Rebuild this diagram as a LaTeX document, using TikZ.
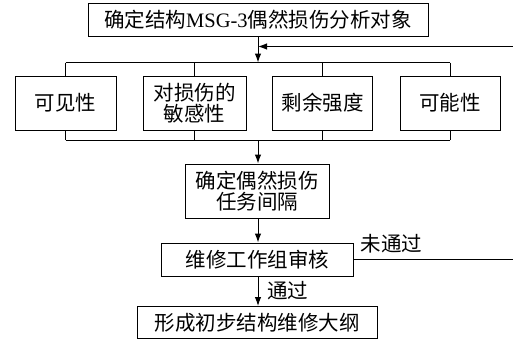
\documentclass[tikz,border=0pt]{standalone}
\usepackage{fontspec}
\setmainfont{Liberation Serif}
\newfontfamily\cjk{Noto Sans CJK SC}
\usetikzlibrary{arrows.meta}
\begin{document}
\begin{tikzpicture}[x=1pt,y=-1pt,
  box/.style={draw,line width=1pt,inner sep=0pt,align=center,font=\cjk\fontsize{20.5}{21.5}\selectfont},
  conn/.style={line width=1pt},
  arr/.style={line width=1pt,-{Latex[length=9pt,width=6.5pt]}},
  lbl/.style={inner sep=0pt,font=\cjk\fontsize{20.5}{22}\selectfont}]
\useasboundingbox (0,0) rectangle (513,340);
\clip (0,0) rectangle (513,340);
\node[box,minimum width=340pt,minimum height=33pt] (top) at (258,19.5) {确定结构{\rmfamily MSG-3}偶然损伤分析对象};
\node[box,minimum width=101pt,minimum height=54pt] (b1) at (65.5,103) {可见性};
\node[box,minimum width=103pt,minimum height=54pt] (b2) at (194.5,103) {对损伤的\\敏感性};
\node[box,minimum width=100pt,minimum height=54pt] (b3) at (322.5,103) {剩余强度};
\node[box,minimum width=100pt,minimum height=54pt] (b4) at (450,103) {可能性};
\node[box,minimum width=144pt,minimum height=54pt] (mid) at (257,191) {确定偶然损伤\\任务间隔};
\node[box,minimum width=192pt,minimum height=33pt] (rev) at (257.5,259.5) {维修工作组审核};
\node[box,minimum width=240pt,minimum height=32pt] (fin) at (257,322.5) {形成初步结构维修大纲};
\node[lbl] (nopass) at (391.5,244) {未通过};
\node[lbl] (pass) at (287.5,290.5) {通过};
% bus coordinates
\coordinate (j) at (258,46.5);
\coordinate (tb) at (258,62.5);
\coordinate (tl) at (b1.center |- tb);
\coordinate (tr) at (b4.center |- tb);
\coordinate (bb) at (258,140);
\coordinate (bl) at (b1.center |- bb);
\coordinate (br) at (b4.center |- bb);
\coordinate (fr) at (rev.east -| 516,0);
\coordinate (fu) at (j -| 516,0);
% connectors
\draw[arr] (top.south -| tb) -- (tb);
\draw[conn] (tl) -- (tr);
\draw[conn] (tl) -- (b1.north);
\draw[conn] (b2.center |- tb) -- (b2.north);
\draw[conn] (b3.center |- tb) -- (b3.north);
\draw[conn] (tr) -- (b4.north);
\draw[conn] (bl) -- (br);
\draw[conn] (bl) -- (b1.south);
\draw[conn] (b2.center |- bb) -- (b2.south);
\draw[conn] (b3.center |- bb) -- (b3.south);
\draw[conn] (br) -- (b4.south);
\draw[arr] (bb) -- (mid.north -| bb);
\draw[arr] (mid.south -| bb) -- (rev.north -| bb);
\draw[arr] (rev.south -| bb) -- (fin.north -| bb);
\draw[conn] (rev.east) -- (fr) -- (fu);
\draw[arr] (fu) -- (j);
\end{tikzpicture}
\end{document}
